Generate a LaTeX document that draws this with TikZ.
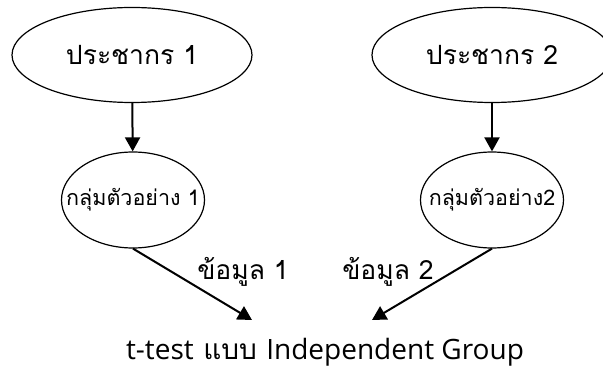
\documentclass[tikz,border=0pt]{standalone}
\usepackage{fontspec}
\setmainfont[Script=Thai]{Loma}
\newfontfamily\latinfont{Open Sans}
\usetikzlibrary{shapes.geometric,arrows.meta}

\tikzset{
  popnode/.style={draw,ellipse,line width=1.2pt,inner sep=0pt,
    minimum width=240pt,minimum height=95pt,
    font=\fontsize{26.5}{30}\selectfont},
  sampnode/.style={draw,ellipse,line width=1.2pt,inner sep=0pt,
    minimum width=143pt,minimum height=96pt,
    font=\fontsize{21.5}{25}\selectfont},
  datanode/.style={anchor=base,font=\fontsize{26.5}{30}\selectfont},
  link/.style={line width=2pt,-{Triangle[length=14pt,width=15pt]}},
}

\begin{document}
\begin{tikzpicture}[x=1pt,y=1pt]
\useasboundingbox (0,0) rectangle (603,375);
\node[popnode] (pop1) at (132,320) {ประชากร 1};
\node[popnode] (pop2) at (492,320) {ประชากร 2};
\node[sampnode] (samp1) at (133,175) {\makebox[0pt]{กลุ่มตัวอย่าง 1}};
\node[sampnode] (samp2) at (492,175) {\makebox[0pt]{กลุ่มตัวอย่าง2}};
\coordinate (in1) at (252,55);
\coordinate (in2) at (372,55);
\node[datanode] (data1) at (243,95) {ข้อมูล 1};
\node[datanode] (data2) at (388,95) {ข้อมูล 2};
\node[anchor=base,font=\fontsize{28}{32}\selectfont] (ttest) at (325,15)
  {{\latinfont t-test} แบบ {\latinfont Independent Group}};
\draw[link] (pop1) -- (samp1);
\draw[link] (pop2) -- (samp2);
\draw[link] (samp1.south) -- (in1);
\draw[link] (samp2.south) -- (in2);
\end{tikzpicture}
\end{document}
